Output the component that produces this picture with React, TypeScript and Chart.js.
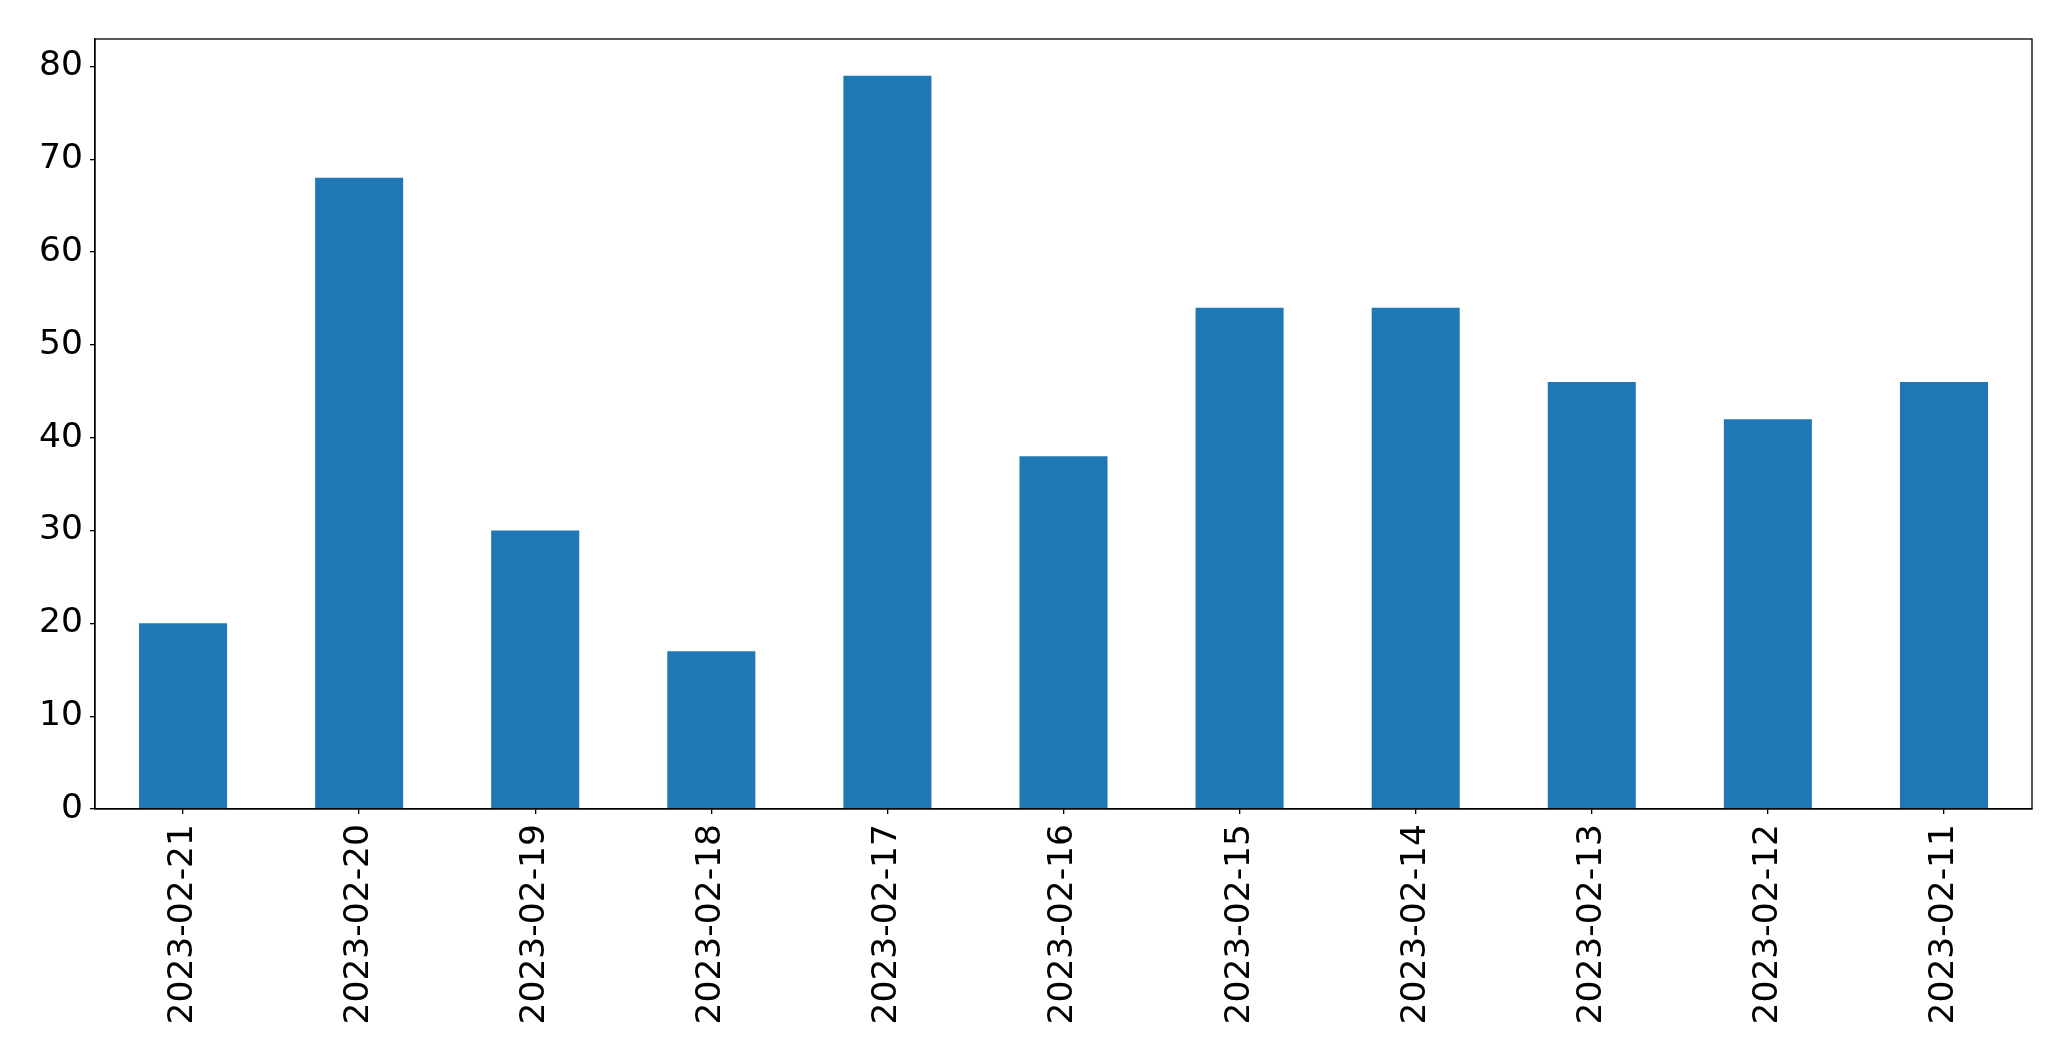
import React, { useEffect, useRef } from "react";
import { Chart, registerables } from "chart.js";

Chart.register(...registerables);

const categories = [
  "2023-02-21", "2023-02-20", "2023-02-19", "2023-02-18", "2023-02-17", "2023-02-16",
  "2023-02-15", "2023-02-14", "2023-02-13", "2023-02-12", "2023-02-11",
];
const values = [20, 68, 30, 17, 79, 38, 54, 54, 46, 42, 46];
const yMax = 82.95;
const yStep = 10;

const frame = {
  id: "frame",
  afterDraw(chart: any) {
    const { ctx, chartArea: a } = chart;
    ctx.save();
    ctx.strokeStyle = "#000";
    ctx.lineWidth = 1.3;
    ctx.strokeRect(a.left, a.top, a.right - a.left, a.bottom - a.top);
    ctx.restore();
  },
};

export default function App() {
  const ref = useRef<HTMLCanvasElement>(null);
  useEffect(() => {
    document.body.style.margin = "0";
    const font = { family: "'DejaVu Sans'", size: 34.5 };
    const chart = new Chart(ref.current!, {
      type: "bar",
      data: {
        labels: categories,
        datasets: [{ data: values, backgroundColor: "#1f77b4", borderWidth: 0, barPercentage: 0.5, categoryPercentage: 1 }],
      },
      options: {
        animation: false,
        responsive: false,
        devicePixelRatio: 1,
        layout: { padding: { top: 39, right: 39, left: 0, bottom: 0 } },
        plugins: { legend: { display: false }, tooltip: { enabled: false } },
        scales: {
          x: {
            offset: true,
            grid: { display: true, drawOnChartArea: false, drawTicks: true, tickLength: 5, color: "#000", lineWidth: 1.3, offset: false },
            border: { display: true, color: "#000", width: 1.3 },
            ticks: { color: "#000", font, minRotation: 90, maxRotation: 90, padding: 10, autoSkip: false },
            afterFit: (s: any) => { s.height = 252; },
          },
          y: {
            min: 0,
            max: yMax,
            grid: { display: true, drawOnChartArea: false, drawTicks: true, tickLength: 5, color: "#000", lineWidth: 1.3 },
            border: { display: true, color: "#000", width: 1.3 },
            ticks: { color: "#000", font, stepSize: yStep, includeBounds: false, padding: 7 },
            afterFit: (s: any) => { s.width = 95; },
          },
        },
      },
      plugins: [frame],
    });
    return () => chart.destroy();
  }, []);
  return <canvas ref={ref} width={2071} height={1061} style={{ display: "block" }} />;
}
